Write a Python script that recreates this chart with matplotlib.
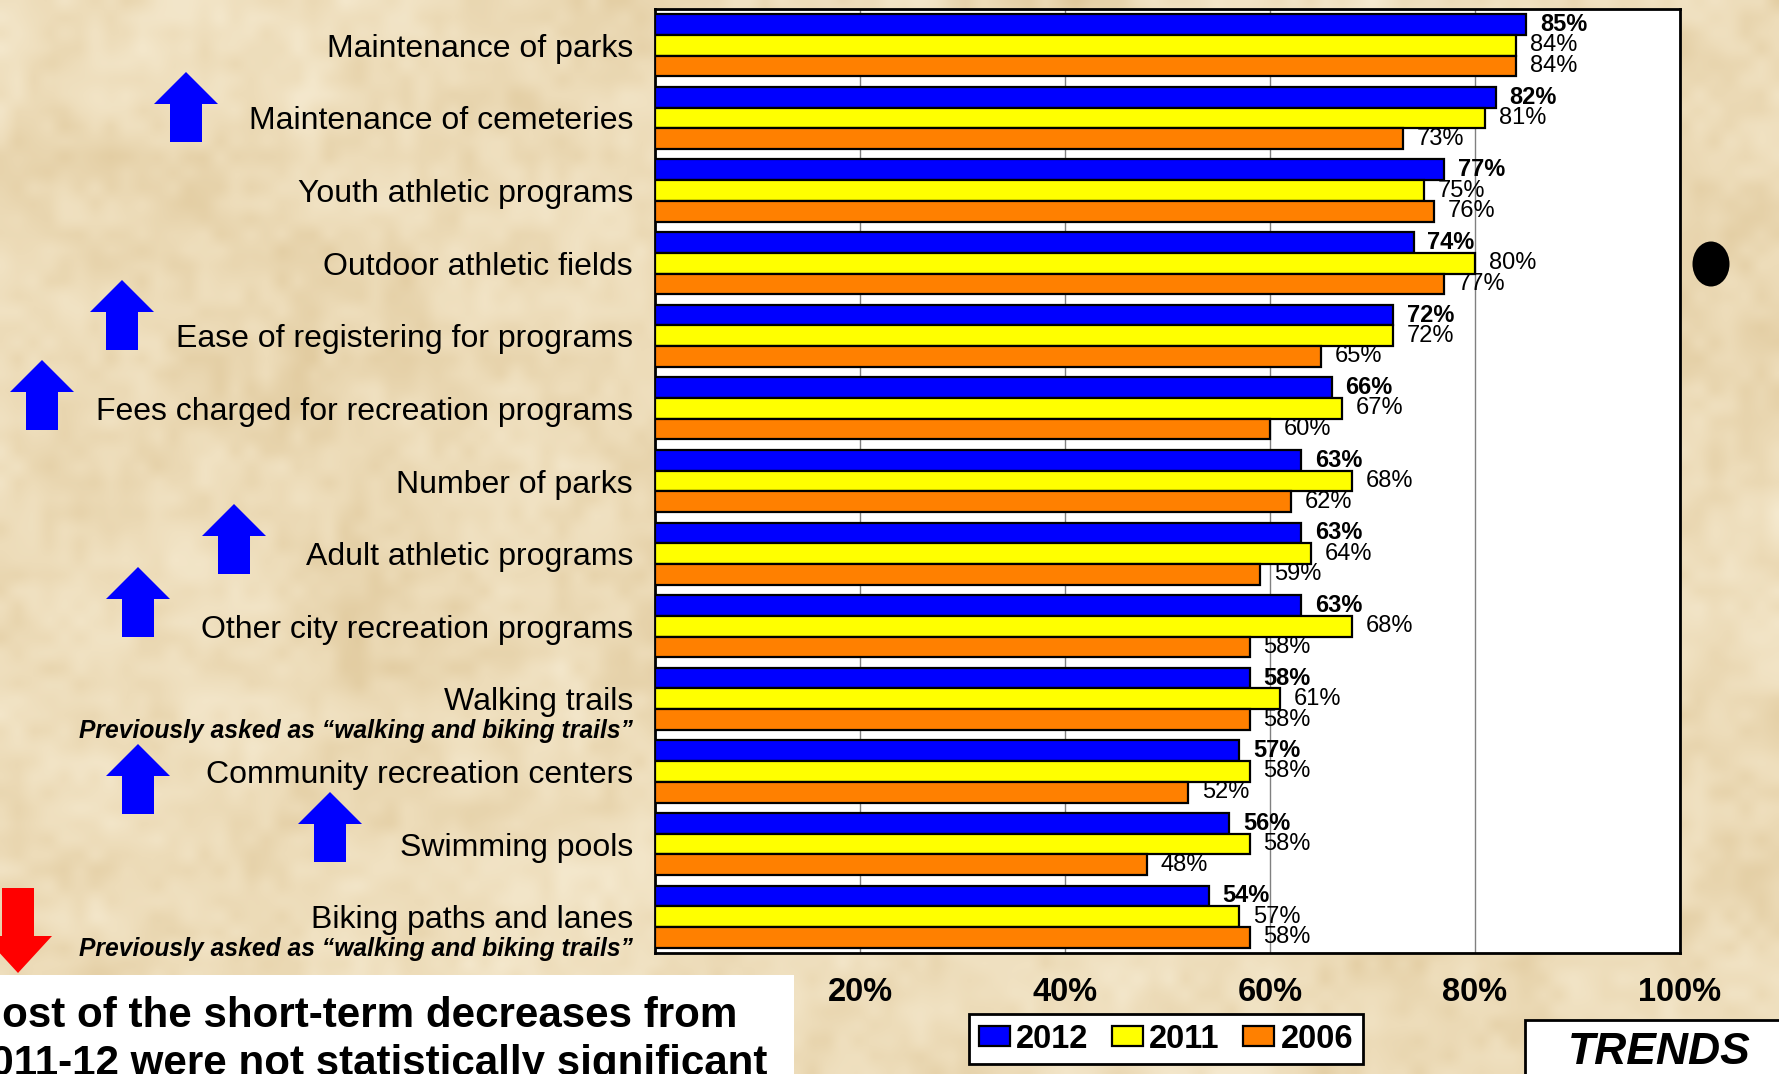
from matplotlib import pyplot as plt
from matplotlib.patches import Rectangle, Polygon, Ellipse
from matplotlib.colors import LinearSegmentedColormap
import numpy as np

plt.rcParams['font.family'] = ['Liberation Sans', 'DejaVu Sans']

categories = ['Maintenance of parks', 'Maintenance of cemeteries', 'Youth athletic programs',
              'Outdoor athletic fields', 'Ease of registering for programs',
              'Fees charged for recreation programs', 'Number of parks', 'Adult athletic programs',
              'Other city recreation programs', 'Walking trails', 'Community recreation centers',
              'Swimming pools', 'Biking paths and lanes']
subtitles = {9: 'Previously asked as \u201cwalking and biking trails\u201d',
             12: 'Previously asked as \u201cwalking and biking trails\u201d'}
years = ['2012', '2011', '2006']
v2012 = [85, 82, 77, 74, 72, 66, 63, 63, 63, 58, 57, 56, 54]
v2011 = [84, 81, 75, 80, 72, 67, 68, 64, 68, 61, 58, 58, 57]
v2006 = [84, 73, 76, 77, 65, 60, 62, 59, 58, 58, 52, 48, 58]
xticks = [20, 40, 60, 80, 100]

note_lines = ['Most of the short-term decreases from',
              '2011-12 were not statistically significant']

W, H = 1779, 1074
fig = plt.figure(figsize=(W / 100, H / 100), dpi=100)


def px(x, y):
    # pixel position (origin top-left) -> figure fraction
    return (x / W, 1 - y / H)


# parchment background
def smooth_noise(rng, ny, nx, h, w):
    coarse = rng.random((ny, nx))
    xi = np.linspace(0, nx - 1, w)
    yi = np.linspace(0, ny - 1, h)
    tmp = np.array([np.interp(xi, np.arange(nx), row) for row in coarse])
    return np.array([np.interp(yi, np.arange(ny), col) for col in tmp.T]).T


rng = np.random.default_rng(7)
th, tw = 268, 445
tex = (0.35 * smooth_noise(rng, 7, 11, th, tw) + 0.35 * smooth_noise(rng, 22, 36, th, tw)
       + 0.3 * smooth_noise(rng, 70, 115, th, tw))
parch = LinearSegmentedColormap.from_list('parch', ['#e0c99c', '#eddcb9', '#f6ebd2'])
bg = fig.add_axes([0, 0, 1, 1], zorder=-10)
bg.imshow(tex, cmap=parch, aspect='auto', interpolation='bicubic', extent=(0, 1, 0, 1))
bg.axis('off')

ax = fig.add_axes([655 / W, 1 - 953 / H, (1680 - 655) / W, (953 - 9) / H])
ax.set_facecolor('white')

y = np.arange(len(categories))
h = 0.285
colors = ['#0000ff', '#ffff00', '#ff8000']
series = [v2012, v2011, v2006]
bars = []
for i, vals in enumerate(series):
    b = ax.barh(y + (i - 1) * h, vals, height=h, color=colors[i], edgecolor='black',
                linewidth=1.6, zorder=3, label=years[i])
    bars.append(b)
    for yy, v in zip(y + (i - 1) * h, vals):
        ax.annotate('{}%'.format(v), (v, yy), xytext=(10, 0), textcoords='offset points',
                    va='center', ha='left', fontsize=17,
                    fontweight='bold' if i == 0 else 'normal', zorder=4)

ax.set_xlim(0, 100)
ax.set_ylim(len(categories) - 0.5, -0.5)
ax.set_xticks(xticks)
ax.set_xticklabels(['{}%'.format(t) for t in xticks], fontsize=23.5, fontweight='bold')
ax.set_yticks(y)
ax.set_yticklabels(categories, fontsize=23)
ax.tick_params(axis='x', length=0, pad=17)
ax.tick_params(axis='y', length=0, pad=15.8)
ax.xaxis.grid(True, color='#808080', linewidth=1)
ax.set_axisbelow(True)
for s in ax.spines.values():
    s.set_linewidth(2)
    s.set_color('black')

for k, sub in subtitles.items():
    ax.annotate(sub, xy=(0, k), xycoords=('axes fraction', 'data'), xytext=(-15.8, -23),
                textcoords='offset points', ha='right', va='center', fontsize=17.7,
                fontweight='bold', fontstyle='italic')

leg = fig.legend(handles=bars, loc='center', bbox_to_anchor=px(1166, 1039), ncol=3,
                 prop={'size': 23.5, 'weight': 'bold'}, frameon=True, fancybox=False,
                 edgecolor='black', framealpha=1, handlelength=0.94, handleheight=0.6,
                 handletextpad=0.2, columnspacing=0.72, borderpad=0.3, borderaxespad=0)
leg.get_frame().set_linewidth(2)


# significance arrows
def arrow(cx, tip, color, down=False, half_head=32, head=32, half_shaft=16, length=70):
    s = -1 if down else 1
    pts = [(cx, tip), (cx + half_head, tip + s * head), (cx + half_shaft, tip + s * head),
           (cx + half_shaft, tip + s * length), (cx - half_shaft, tip + s * length),
           (cx - half_shaft, tip + s * head), (cx - half_head, tip + s * head)]
    fig.patches.append(Polygon([px(a, b) for a, b in pts], closed=True, facecolor=color,
                               edgecolor='none', transform=fig.transFigure, zorder=2))


up_arrows = [(186, 72), (122, 280), (42, 360), (234, 504), (138, 567), (138, 744), (330, 792)]
for cx, tip in up_arrows:
    arrow(cx, tip, '#0000ff')
arrow(18, 973, '#ff0000', down=True, half_head=34, head=37, length=85)

fig.patches.append(Ellipse(px(1711, 264), 37 / W, 45 / H, facecolor='black',
                           transform=fig.transFigure, zorder=2))

# note box
fig.patches.append(Rectangle(px(-5, 1080), 799 / W, 105 / H, facecolor='white',
                             edgecolor='none', transform=fig.transFigure, zorder=4))
for j, line in enumerate(note_lines):
    fig.text(-33 / W, 1 - (1027 + 48 * j) / H, line, ha='left', va='baseline',
             fontsize=30.3, fontweight='bold', zorder=5)

# trends tag
fig.patches.append(Rectangle(px(1525, 1090), 270 / W, 70 / H, facecolor='white',
                             edgecolor='black', linewidth=2, transform=fig.transFigure, zorder=4))
fig.text(1568 / W, 1 - 1064 / H, 'TRENDS', ha='left', va='baseline', fontsize=32,
         fontweight='bold', fontstyle='italic', zorder=5)

plt.savefig('out.png', dpi=100)
